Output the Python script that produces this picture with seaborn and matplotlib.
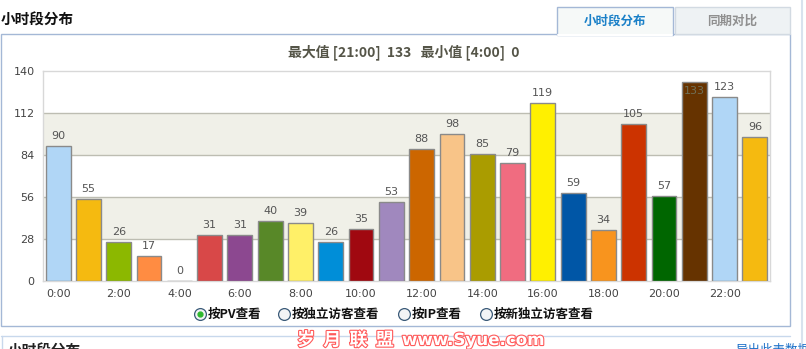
import matplotlib
matplotlib.use("Agg")
import matplotlib.pyplot as plt
import matplotlib.patches as mpatches
import matplotlib.patheffects as pe
from matplotlib.lines import Line2D
import seaborn as sns
import pandas as pd

hours = [f"{h}:00" for h in range(24)]
values = [90, 55, 26, 17, 0, 31, 31, 40, 39, 26, 35, 53,
          88, 98, 85, 79, 119, 59, 34, 105, 57, 133, 123, 96]
colors = ["#B0D6F6", "#F5BA10", "#8CB800", "#FF8C42", "#888888", "#D84848",
          "#8C4890", "#588828", "#FFF068", "#008ED8", "#A00810", "#A088BE",
          "#CC6600", "#F8C488", "#AA9C00", "#F06C80", "#FFF000", "#0056A6",
          "#F8941E", "#CC3300", "#006600", "#663300", "#B0D6F6", "#F5BA10"]
yticks = [0, 28, 56, 84, 112, 140]
xtick_labels = [f"{h}:00" for h in range(0, 24, 2)]
title = "小时段分布"
subtitle = "最大值 [21:00]  133   最小值 [4:00]  0"
tabs = ["小时段分布", "同期对比"]
radios = ["按PV查看", "按独立访客查看", "按IP查看", "按新独立访客查看"]

sns.set_theme(style="white")
plt.rcParams["font.family"] = ["DejaVu Sans", "Noto Sans CJK SC"]
CJK = ["Noto Sans CJK SC", "DejaVu Sans"]

W, H = 806, 349
fig = plt.figure(figsize=(W / 100, H / 100), dpi=100)
fig.patch.set_facecolor("white")

def fx(px):
    return px / W

def fy(py):
    return 1 - py / H

# outer panel frame
fig.add_artist(mpatches.Rectangle((fx(1), fy(326)), fx(789), (326 - 34) / H,
                                  transform=fig.transFigure, fill=False,
                                  edgecolor="#A4B8D6", linewidth=1))
# tabs
fig.add_artist(mpatches.Rectangle((fx(675), fy(34)), fx(115), 27 / H,
                                  transform=fig.transFigure, facecolor="#EEF2F4",
                                  edgecolor="#D2DAE2", linewidth=1))
fig.add_artist(mpatches.Rectangle((fx(557), fy(35)), fx(116), 28 / H,
                                  transform=fig.transFigure, facecolor="#F6F9F8",
                                  edgecolor="#A4B8D6", linewidth=1))
fig.add_artist(Line2D([fx(558), fx(672)], [fy(34.5), fy(34.5)],
                      transform=fig.transFigure, color="white", linewidth=1.5))
fig.text(fx(615), fy(21), tabs[0], family=CJK, fontsize=9, fontweight="bold",
         color="#1A80C8", ha="center", va="center")
fig.text(fx(732), fy(21), tabs[1], family=CJK, fontsize=9, fontweight="bold",
         color="#909090", ha="center", va="center")
fig.text(fx(1), fy(20), title, family=CJK, fontsize=10.5, fontweight="bold",
         color="#111111", ha="left", va="center")
fig.text(fx(404), fy(52), subtitle, family=CJK, fontsize=10, fontweight="bold",
         color="#555548", ha="center", va="center")

# bottom second panel
fig.add_artist(Line2D([fx(1), fx(790)], [fy(336), fy(336)],
                      transform=fig.transFigure, color="#C8D8EC", linewidth=1))
fig.add_artist(Line2D([fx(1.5), fx(1.5)], [fy(336), 0],
                      transform=fig.transFigure, color="#C8D8EC", linewidth=1))
fig.add_artist(Line2D([fx(802), fx(802)], [fy(0), 0],
                      transform=fig.transFigure, color="#D8E2EE", linewidth=1.5))
fig.text(fx(8), fy(351), title, family=CJK, fontsize=10.5, fontweight="bold",
         color="#222222", ha="left", va="center")
fig.text(fx(735), fy(350), "导出此表数据", family=CJK, fontsize=9,
         color="#1A6FC8", ha="left", va="center")

# chart axes
ax = fig.add_axes([fx(43), fy(281), fx(770 - 43), (281 - 71) / H])
df = pd.DataFrame({"hour": hours, "value": values})
sns.barplot(data=df, x="hour", y="value", hue="hour", order=hours,
            palette=colors, legend=False, saturation=1, width=0.82,
            edgecolor="#8A8A8A", linewidth=1, ax=ax, zorder=3)

ax.set_ylim(0, 140)
ax.set_xlim(-0.5, 23.5)
ax.axhspan(28, 56, color="#F0F0E8", zorder=0, linewidth=0)
ax.axhspan(84, 112, color="#F0F0E8", zorder=0, linewidth=0)
for yv in [28, 56, 84, 112]:
    ax.axhline(yv, color="#BDBDB2", linewidth=1, zorder=1)
ax.set_yticks(yticks)
ax.set_yticklabels([str(t) for t in yticks])
ax.set_xticks(range(0, 24, 2))
ax.set_xticklabels(xtick_labels)
ax.tick_params(axis="both", length=0, labelsize=8, colors="#444444")
ax.tick_params(axis="x", pad=6)
ax.tick_params(axis="y", pad=6)
ax.set_xlabel("")
ax.set_ylabel("")
for s in ax.spines.values():
    s.set_color("#D8D8D8")
    s.set_linewidth(1)
ax.grid(False)

for i, v in enumerate(values):
    if v > 130:
        ax.annotate(str(v), (i, v), xytext=(0, -3), textcoords="offset points",
                    ha="center", va="top", fontsize=8, color="#707058",
                    zorder=5)
    else:
        ax.annotate(str(v), (i, v), xytext=(0, 3.5), textcoords="offset points",
                    ha="center", va="bottom", fontsize=8, color="#555555",
                    zorder=5)

# radio buttons
radio_x = [200, 284, 404, 486]
for j, (rx, lab) in enumerate(zip(radio_x, radios)):
    fig.add_artist(Line2D([fx(rx)], [fy(314)], transform=fig.transFigure,
                          marker="o", markersize=8.5, markerfacecolor="#F2F4F6",
                          markeredgecolor="#3A5A78", markeredgewidth=0.9,
                          linestyle="none"))
    if j == 0:
        fig.add_artist(Line2D([fx(rx)], [fy(314)], transform=fig.transFigure,
                              marker="o", markersize=3.5, markerfacecolor="#2EB82E",
                              markeredgecolor="#2EB82E", linestyle="none"))
    fig.text(fx(rx + 8), fy(314), lab, family=CJK, fontsize=9,
             fontweight="bold", color="#111111", ha="left", va="center")

# watermark
wm_fx = [pe.withStroke(linewidth=1.6, foreground="#FF5A5A")]
fig.text(fx(297), fy(340), "岁  月  联  盟", family=CJK, fontsize=13,
         fontweight="bold", color="white", ha="left", va="center",
         path_effects=wm_fx)
fig.text(fx(402), fy(340), "www.Syue.com", fontsize=12, fontweight="bold",
         color="white", ha="left", va="center", path_effects=wm_fx)

fig.savefig("out.png", dpi=100, facecolor="white")
